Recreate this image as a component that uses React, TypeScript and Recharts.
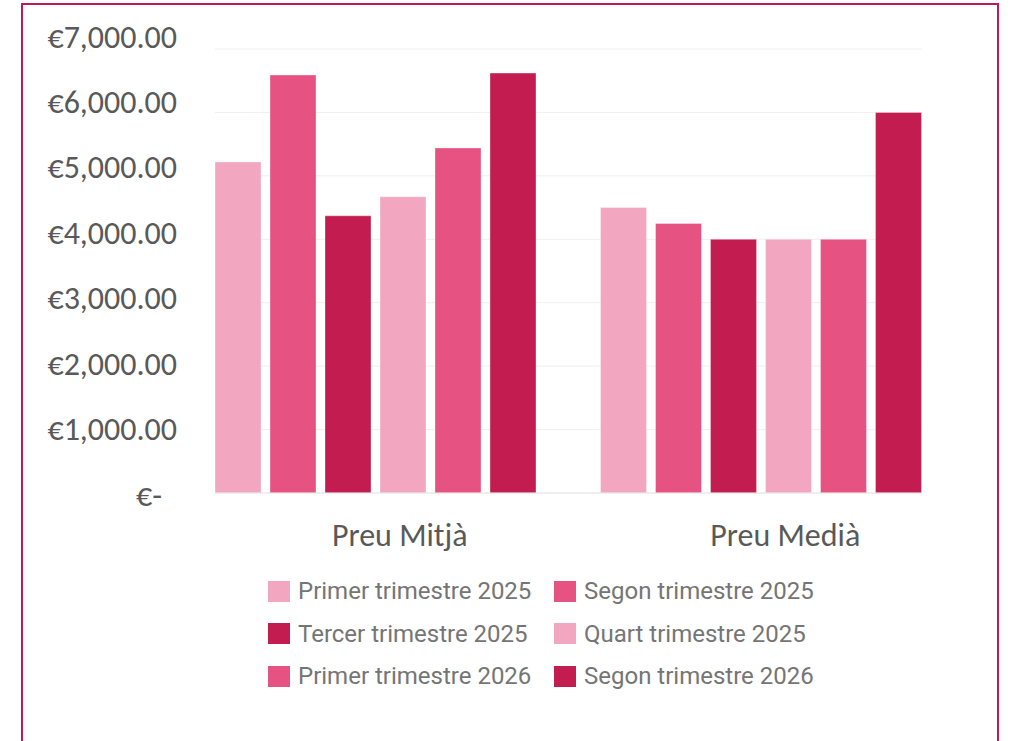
import { BarChart, Bar, XAxis, YAxis, CartesianGrid, Legend } from "recharts";

const categories = ["Preu Mitjà", "Preu Medià"];
const primer2025 = [5220, 4500];
const segon2025 = [6590, 4250];
const tercer2025 = [4370, 4000];
const quart2025 = [4670, 4000];
const primer2026 = [5440, 4000];
const segon2026 = [6620, 6000];
const yTicks = [0, 1000, 2000, 3000, 4000, 5000, 6000, 7000];

const LIGHT = "#f3a6c0";
const MID = "#e65282";
const DARK = "#c21c51";

const series = [
  { key: "p25", name: "Primer trimestre 2025", values: primer2025, color: LIGHT },
  { key: "s25", name: "Segon trimestre 2025", values: segon2025, color: MID },
  { key: "t25", name: "Tercer trimestre 2025", values: tercer2025, color: DARK },
  { key: "q25", name: "Quart trimestre 2025", values: quart2025, color: LIGHT },
  { key: "p26", name: "Primer trimestre 2026", values: primer2026, color: MID },
  { key: "s26", name: "Segon trimestre 2026", values: segon2026, color: DARK },
];

const data = categories.map((c, i) => {
  const row: Record<string, string | number> = { name: c };
  series.forEach((s) => (row[s.key] = s.values[i]));
  return row;
});

const LABEL_FONT = "Carlito, Calibri, 'Open Sans', sans-serif";

function fmtEuro(v: number): string {
  if (v === 0) return "€-";
  return "€" + v.toLocaleString("en-US", { minimumFractionDigits: 2, maximumFractionDigits: 2 });
}

function YTick(props: any) {
  const { x, y, payload } = props;
  const v = payload.value as number;
  // excel spreads its labels a bit wider than the gridlines
  const shift = 2 - (2 * v) / 1000;
  return (
    <text
      x={v === 0 ? x - 15 : x}
      y={y + shift}
      dy="0.33em"
      textAnchor="end"
      fill="#595959"
      fontSize={32}
      fontFamily={LABEL_FONT}
    >
      {fmtEuro(v)}
    </text>
  );
}

function XTick(props: any) {
  const { x, y, payload } = props;
  return (
    <text
      x={x + 24}
      y={y + 51}
      textAnchor="middle"
      fill="#595959"
      fontSize={32}
      fontFamily={LABEL_FONT}
    >
      {payload.value}
    </text>
  );
}

// recharts sorts the legend payload, so keep the series order here
function LegendBox() {
  return (
    <div
      style={{
        height: 141,
        paddingLeft: 268,
        boxSizing: "border-box",
        display: "grid",
        gridTemplateColumns: "286px 320px",
        gridAutoRows: "42.5px",
        fontFamily: "Roboto, sans-serif",
        fontSize: 24,
        color: "#757575",
      }}
    >
      {series.map((s) => (
        <div key={s.key} style={{ display: "flex", alignItems: "center" }}>
          <span
            style={{
              width: 22,
              height: 21,
              background: s.color,
              marginRight: 8,
              display: "inline-block",
              flex: "none",
            }}
          />
          <span style={{ whiteSpace: "nowrap" }}>{s.name}</span>
        </div>
      ))}
    </div>
  );
}

export default function App() {
  return (
    <div
      style={{
        position: "absolute",
        left: 0,
        top: 0,
        width: 1010,
        height: 741,
        background: "#fff",
        overflow: "hidden",
      }}
    >
      <div
        style={{
          position: "absolute",
          left: 21,
          top: 3,
          width: 978,
          height: 800,
          border: "2px solid #c2185b",
          boxSizing: "border-box",
        }}
      />
      <div style={{ position: "absolute", left: 0, top: 0 }}>
        <BarChart
          width={1010}
          height={741}
          data={data}
          margin={{ top: 49, right: 88, bottom: 30, left: 15 }}
          barSize={46}
          barGap={9}
        >
          <CartesianGrid vertical={false} stroke="#efefef" />
          <XAxis
            dataKey="name"
            height={77}
            tickLine={false}
            tickSize={0}
            axisLine={{ stroke: "#e6e6e6" }}
            padding={{ left: -32, right: -32 }}
            tick={<XTick />}
          />
          <YAxis
            width={200}
            domain={[0, 7000]}
            ticks={yTicks}
            axisLine={false}
            tickLine={false}
            tickSize={0}
            tickMargin={38}
            tick={<YTick />}
          />
          <Legend
            verticalAlign="bottom"
            content={<LegendBox />}
            wrapperStyle={{ left: 0, width: 1010, bottom: 30 }}
          />
          {series.map((s) => (
            <Bar
              key={s.key}
              dataKey={s.key}
              name={s.name}
              fill={s.color}
              stroke="#ffffff"
              strokeOpacity={0.35}
              isAnimationActive={false}
            />
          ))}
        </BarChart>
      </div>
    </div>
  );
}
